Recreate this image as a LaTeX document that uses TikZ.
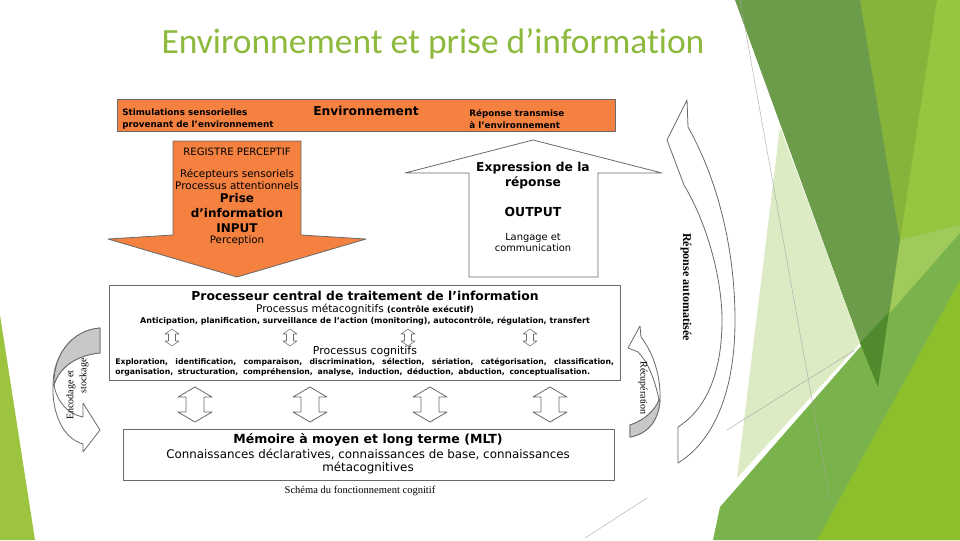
\documentclass[tikz,border=0pt]{standalone}
\usepackage{fontspec}
\newfontfamily\vd{DejaVu Sans}
\newfontfamily\tm{Liberation Serif}
\newfontfamily\cb[Ligatures=NoCommon]{Carlito}
\newcommand\fsz[2]{\fontsize{#1}{#2}\selectfont}
\definecolor{lgrey}{RGB}{105,105,105}
\definecolor{orng}{RGB}{244,129,63}
\definecolor{crest}{RGB}{200,200,200}
\definecolor{ttl}{RGB}{141,185,60}
\definecolor{gBase}{RGB}{151,197,63}
\definecolor{gOlive}{RGB}{134,180,58}
\definecolor{gYel}{RGB}{141,191,45}
\definecolor{gDark}{RGB}{108,156,74}
\definecolor{gPale}{RGB}{221,235,196}
\definecolor{gMed}{RGB}{122,179,75}
\definecolor{gDeep}{RGB}{79,138,44}
\definecolor{gLight}{RGB}{160,202,92}
\definecolor{gLeft}{RGB}{157,196,63}
\begin{document}
\begin{tikzpicture}[x=0.75pt,y=-0.75pt,
  shp/.style={draw=lgrey, line width=0.6pt, line join=round},
  vdn/.style={font=\vd, inner sep=0pt, align=center},
  thin/.style={draw=black!35, line width=0.3pt}]
\useasboundingbox (0,0) rectangle (960,540);
\fill[white] (0,0) rectangle (960,540);
% background
\fill[gBase] (860,0) -- (960,0) -- (960,540) -- (815,540) -- (880,380) -- cycle;
\fill[gOlive] (860,0) -- (937,0) -- (900,240) -- cycle;
\fill[gLight] (900,240) -- (960,225) -- (960,262) -- (885,350) -- cycle;
\fill[gYel] (817,540) -- (960,280) -- (960,540) -- cycle;
\fill[gDark] (735,0) -- (860,0) -- (900,240) -- (878,387) -- (860,343) -- cycle;
\fill[gPale] (780,127) -- (860,343) -- (737,478) -- cycle;
\fill[gMed] (713,540) -- (720,507) -- (960,233) -- (960,280) -- (817,540) -- cycle;
\fill[gDeep] (860,343) -- (889,312) -- (878,387) -- cycle;
\fill[gLeft] (0,315) -- (35,540) -- (0,540) -- cycle;
\draw[thin] (740,0) -- (830,500);
\draw[thin] (727,430) -- (855,350);
\draw[thin] (585,538) -- (647,498);
% title
\node[font=\cb\fsz{26.6}{30}, text=ttl, inner sep=0pt] (title) at (433,44) {Environnement et prise d’information};
% top orange box
\draw[shp, fill=orng] (117,99) rectangle (615,131);
\node[vdn, anchor=west, align=left, font=\vd\bfseries\fsz{6.6}{9}] (stim) at (122,119) {Stimulations sensorielles\\provenant de l’environnement};
\node[vdn, font=\vd\bfseries\fsz{9.2}{11}] (env) at (366,111) {Environnement};
\node[vdn, anchor=west, align=left, font=\vd\bfseries\fsz{6.6}{9}] (rep) at (469,119) {Réponse transmise\\à l’environnement};
% input arrow
\draw[shp, fill=orng] (173,141) -- (301,141) -- (301,235) -- (366,239) -- (237,277) -- (108,239) -- (173,235) -- cycle;
\node[vdn, font=\vd\fsz{7.6}{8.3}] (reg) at (237,152) {REGISTRE PERCEPTIF};
\node[vdn, font=\vd\fsz{7.8}{8.4}] (recep) at (237,179.5) {Récepteurs sensoriels\\Processus attentionnels};
\node[vdn, font=\vd\bfseries\fsz{9}{11.2}] (prise) at (237,213) {Prise\\d’information\\INPUT};
\node[vdn, font=\vd\fsz{7.7}{8.3}] (perc) at (237,241) {Perception};
% output arrow
\draw[shp, fill=white] (533,140) -- (662,173) -- (598,173) -- (598,277) -- (469,277) -- (469,173) -- (405,173) -- cycle;
\node[vdn, font=\vd\bfseries\fsz{9.2}{11.2}] (expr) at (533,175.5) {Expression de la\\réponse};
\node[vdn, font=\vd\bfseries\fsz{9.3}{10}] (outp) at (533,212) {OUTPUT};
\node[vdn, font=\vd\fsz{7.4}{8.3}] (lang) at (533,242.5) {Langage et\\communication};
% central processor
\draw[shp, fill=white] (109,285) rectangle (620,380);
\node[vdn, font=\vd\bfseries\fsz{9.25}{10}] (proc) at (365,296) {Processeur central de traitement de l’information};
\node[vdn, font=\vd\fsz{7.9}{9}] (meta) at (365,309) {Processus métacognitifs {\bfseries\fsz{6.2}{7}(contrôle exécutif)}};
\node[vdn, font=\vd\bfseries\fsz{6}{7}] (antic) at (365,321) {Anticipation, planification, surveillance de l’action (monitoring), autocontrôle, régulation, transfert};
\foreach \cx/\nm in {172/a,290/b,408/c,530/d}
  \draw[shp, fill=white, line width=0.4pt] (\cx,329) -- ++(7,5) -- ++(-3.5,0) -- ++(0,7) -- ++(3.5,0) -- ++(-7,5) -- ++(-7,-5) -- ++(3.5,0) -- ++(0,-7) -- ++(-3.5,0) -- cycle;
\node[vdn, font=\vd\fsz{8.2}{9}] (cogn) at (365,351) {Processus cognitifs};
\node[vdn, anchor=west, align=left, font=\vd\bfseries\fsz{5.8}{7.6}] (explo) at (115,367) {\makebox[374pt][s]{Exploration,\ \ identification,\ \ comparaison,\ \ discrimination,\ \ sélection,\ \ sériation,\ \ catégorisation,\ \ classification,}\\\makebox[356pt][s]{organisation,\ \ structuration,\ \ compréhension,\ \ analyse,\ \ induction,\ \ déduction,\ \ abduction,\ \ conceptualisation.}};
% double arrows
\foreach \cx in {195,310,430,550}
  \draw[shp, fill=white] (\cx,387) -- ++(17,10) -- ++(-8,0) -- ++(0,15) -- ++(8,0) -- ++(-17,10) -- ++(-17,-10) -- ++(8,0) -- ++(0,-15) -- ++(-8,0) -- cycle;
% memory
\draw[shp, fill=white] (123,429) rectangle (614,480);
\node[vdn, font=\vd\bfseries\fsz{9.4}{10}] (mlt) at (368,440) {Mémoire à moyen et long terme (MLT)};
\node[vdn, font=\vd\fsz{8.9}{9.8}] (conn) at (368,461.5) {Connaissances déclaratives, connaissances de base, connaissances\\métacognitives};
\node[font=\tm\fsz{7.9}{9}, inner sep=0pt] (cap) at (360,491) {Schéma du fonctionnement cognitif};
% encodage arrow (left)
\draw[shp, fill=white] (100,328) -- (100,353) .. controls (76,355) and (59,368) .. (54,385) .. controls (57,402) and (68,414) .. (83,417) -- (83,403) -- (100,430) -- (83,452) -- (83,444) .. controls (62,438) and (52,412) .. (53,385) .. controls (53,355) and (72,330) .. (100,328) -- cycle;
\draw[shp, fill=crest] (100,328) -- (100,353) .. controls (76,355) and (59,368) .. (54,385) .. controls (53,355) and (72,330) .. (100,328) -- cycle;
\node[font=\tm\fsz{7.5}{9}, inner sep=0pt, rotate=90] (enc) at (71,395) {Encodage et};
\node[font=\tm\fsz{7.5}{9}, inner sep=0pt, rotate=90] (stock) at (84,376) {stockage};
% recuperation arrow (right)
\draw[shp, fill=white] (640,326) -- (641,337) .. controls (655,355) and (661,380) .. (660,400) .. controls (659,420) and (648,434) .. (630,437) -- (630,425) .. controls (645,420) and (655,410) .. (659,400) .. controls (655,380) and (648,362) .. (638,352) -- (628,348) -- cycle;
\draw[shp, fill=crest] (660,400) .. controls (659,420) and (648,434) .. (630,437) -- (630,425) .. controls (645,420) and (655,410) .. (659,400) -- cycle;
\node[font=\tm\fsz{7.5}{9}, inner sep=0pt, rotate=-90] (recup) at (643,388) {Récupération};
% reponse automatisee
\draw[shp, fill=white] (687,100) -- (688,127) .. controls (718,180) and (735,250) .. (735,320) .. controls (735,390) and (715,440) .. (678,463) -- (678,427) .. controls (705,410) and (722,375) .. (722,320) .. controls (722,280) and (708,225) .. (684,185) -- (667,140) -- cycle;
\node[font=\tm\bfseries\fsz{9}{10}, inner sep=0pt, rotate=-90] (auto) at (686,287) {Réponse automatisée};
\end{tikzpicture}
\end{document}
